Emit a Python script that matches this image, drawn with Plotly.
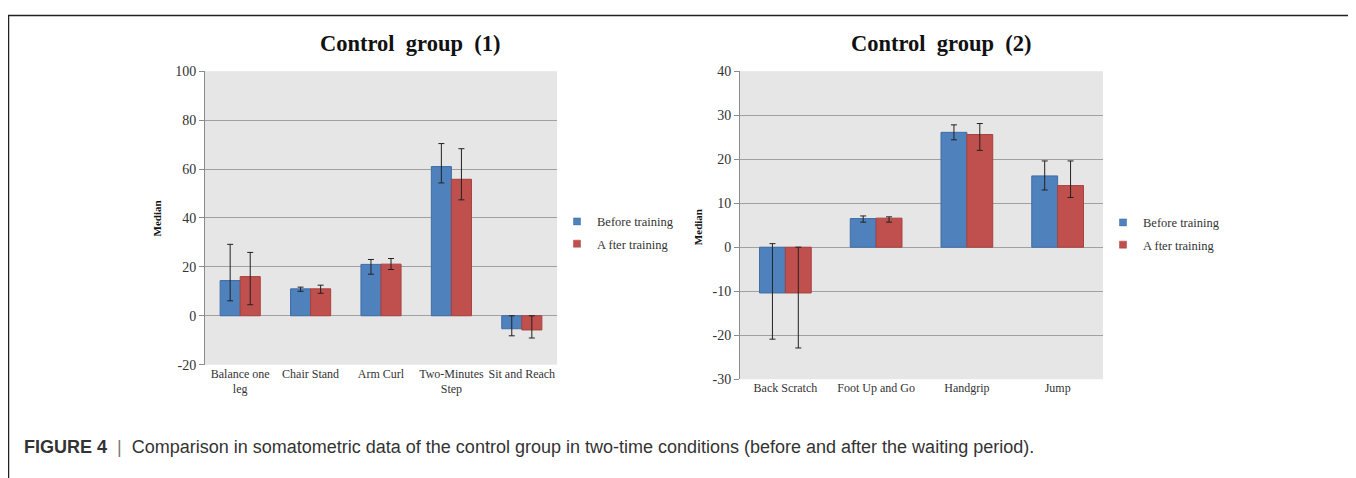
import plotly.graph_objects as go

# ---- data: Control group (1)
cats1 = ["Balance one<br>leg", "Chair Stand", "Arm Curl", "Two-Minutes<br>Step", "Sit and Reach"]
before1 = [14.4, 11.0, 21.0, 61.0, -5.3]
before1_up = [14.8, 0.7, 2.0, 9.4, 5.3]
before1_dn = [8.3, 1.0, 4.0, 6.7, 2.9]
after1 = [16.0, 11.0, 21.1, 55.8, -5.8]
after1_up = [9.9, 1.5, 2.3, 12.5, 5.8]
after1_dn = [11.5, 1.8, 2.2, 8.4, 3.3]

# ---- data: Control group (2)
cats2 = ["Back Scratch", "Foot Up and Go", "Handgrip", "Jump"]
before2 = [-10.4, 6.5, 26.1, 16.2]
before2_up = [11.2, 0.6, 1.7, 3.4]
before2_dn = [10.5, 0.8, 1.7, 3.2]
after2 = [-10.4, 6.6, 25.6, 14.0]
after2_up = [10.4, 0.3, 2.5, 5.6]
after2_dn = [12.5, 0.9, 3.6, 2.7]

series_names = ["Before training", "A fter training"]
tick1 = [-20, 0, 20, 40, 60, 80, 100]
tick1_text = ["-20", "0", "20", "40", "60", "80", "100"]
tick2 = [-30, -20, -10, 0, 10, 20, 30, 40]
tick2_text = ["-30", "-20", "-10", "0", "10", "20", "30", "40"]

BLUE = "#4F81BD"
RED = "#C0504D"
BLUE_EDGE = "#3f6da6"
RED_EDGE = "#a8403d"
SERIF = "Liberation Serif"
W, H = 1356, 478
OFF = 8  # the page body margin: the figure itself starts 8px in from the window corner


def px_x(p):
    return (p - OFF) / W


def px_y(p):
    return 1 - (p - OFF) / H


def err(up, dn):
    return dict(type="data", symmetric=False, array=up, arrayminus=dn,
                color="#222222", thickness=1, width=3)


fig = go.Figure()
fig.add_trace(go.Bar(x=cats1, y=before1, name=series_names[0], xaxis="x", yaxis="y",
                     marker=dict(color=BLUE, line=dict(color=BLUE_EDGE, width=1)),
                     error_y=err(before1_up, before1_dn), showlegend=False))
fig.add_trace(go.Bar(x=cats1, y=after1, name=series_names[1], xaxis="x", yaxis="y",
                     marker=dict(color=RED, line=dict(color=RED_EDGE, width=1)),
                     error_y=err(after1_up, after1_dn), showlegend=False))
fig.add_trace(go.Bar(x=cats2, y=before2, name=series_names[0], xaxis="x2", yaxis="y2",
                     marker=dict(color=BLUE, line=dict(color=BLUE_EDGE, width=1)),
                     error_y=err(before2_up, before2_dn), showlegend=False))
fig.add_trace(go.Bar(x=cats2, y=after2, name=series_names[1], xaxis="x2", yaxis="y2",
                     marker=dict(color=RED, line=dict(color=RED_EDGE, width=1)),
                     error_y=err(after2_up, after2_dn), showlegend=False))

# legend entries with small square keys
for lg, xa, ya in (("legend", "x", "y"), ("legend2", "x2", "y2")):
    for i, (nm, col, edge) in enumerate(((series_names[0], BLUE, BLUE_EDGE),
                                         (series_names[1], RED, RED_EDGE))):
        fig.add_trace(go.Scatter(x=[None], y=[None], mode="markers", name=nm,
                                 xaxis=xa, yaxis=ya, legend=lg, legendgroup=f"{lg}{i}",
                                 marker=dict(symbol="square", size=7, color=col,
                                             line=dict(color=edge, width=0.5))))

axis_common = dict(showgrid=True, gridcolor="#a0a0a0", gridwidth=1,
                   zeroline=True, zerolinecolor="#a0a0a0", zerolinewidth=1,
                   showline=True, linecolor="#8c8c8c", linewidth=1,
                   ticks="outside", ticklen=5, tickcolor="#8c8c8c",
                   tickfont=dict(family=SERIF, size=14, color="#333333"))
xaxis_common = dict(showline=False, showgrid=False, zeroline=False, ticks="", tickangle=0,
                    tickfont=dict(family=SERIF, size=12, color="#333333"))

legend_common = dict(font=dict(family=SERIF, size=12.5, color="#333333"),
                     bgcolor="rgba(0,0,0,0)", itemwidth=30, tracegroupgap=3,
                     xanchor="left", yanchor="top")

fig.update_layout(
    width=W, height=H,
    margin=dict(l=0, r=0, t=0, b=0),
    paper_bgcolor="white",
    plot_bgcolor="#e6e6e6",
    barmode="group", bargap=0.43, bargroupgap=0,
    xaxis=dict(domain=[px_x(205), px_x(557)], anchor="y", **xaxis_common),
    yaxis=dict(domain=[px_y(369), px_y(66)], anchor="x", range=[-20, 100],
               tickvals=tick1, ticktext=tick1_text, **axis_common),
    xaxis2=dict(domain=[px_x(740), px_x(1103)], anchor="y2", **xaxis_common),
    yaxis2=dict(domain=[px_y(384), px_y(66)], anchor="x2", range=[-30, 40],
                tickvals=tick2, ticktext=tick2_text, **axis_common),
    legend=dict(x=px_x(557), y=px_y(206), **legend_common),
    legend2=dict(x=px_x(1103), y=px_y(207), **legend_common),
    showlegend=True,
)

annotations = [
    dict(text="<b>Control  group  (1)</b>", x=px_x(410), y=px_y(37), xref="paper", yref="paper",
         showarrow=False, font=dict(family=SERIF, size=22.5, color="#111111"),
         xanchor="center", yanchor="middle"),
    dict(text="<b>Control  group  (2)</b>", x=px_x(941), y=px_y(37), xref="paper", yref="paper",
         showarrow=False, font=dict(family=SERIF, size=22.5, color="#111111"),
         xanchor="center", yanchor="middle"),
    dict(text="<b>Median</b>", x=px_x(157), y=px_y(218), xref="paper", yref="paper",
         showarrow=False, textangle=-90, font=dict(family=SERIF, size=11, color="#111111"),
         xanchor="center", yanchor="middle"),
    dict(text="<b>Median</b>", x=px_x(698), y=px_y(227), xref="paper", yref="paper",
         showarrow=False, textangle=-90, font=dict(family=SERIF, size=11, color="#111111"),
         xanchor="center", yanchor="middle"),
    dict(text="<b>FIGURE 4</b>  <span style='color:#777777'>|</span>  Comparison in somatometric data of the control group in two-time conditions (before and after the waiting period).",
         x=px_x(22), y=px_y(454), xref="paper", yref="paper", showarrow=False,
         font=dict(family="Liberation Sans", size=18, color="#333333"),
         xanchor="left", yanchor="middle"),
]
fig.update_layout(annotations=annotations)

fig.add_shape(type="rect", xref="paper", yref="paper",
              x0=px_x(8.5), x1=px_x(1352.5), y0=-0.05, y1=px_y(8.5),
              line=dict(color="#222222", width=1.5), fillcolor="rgba(0,0,0,0)", layer="below")

fig.write_html("out.html")
